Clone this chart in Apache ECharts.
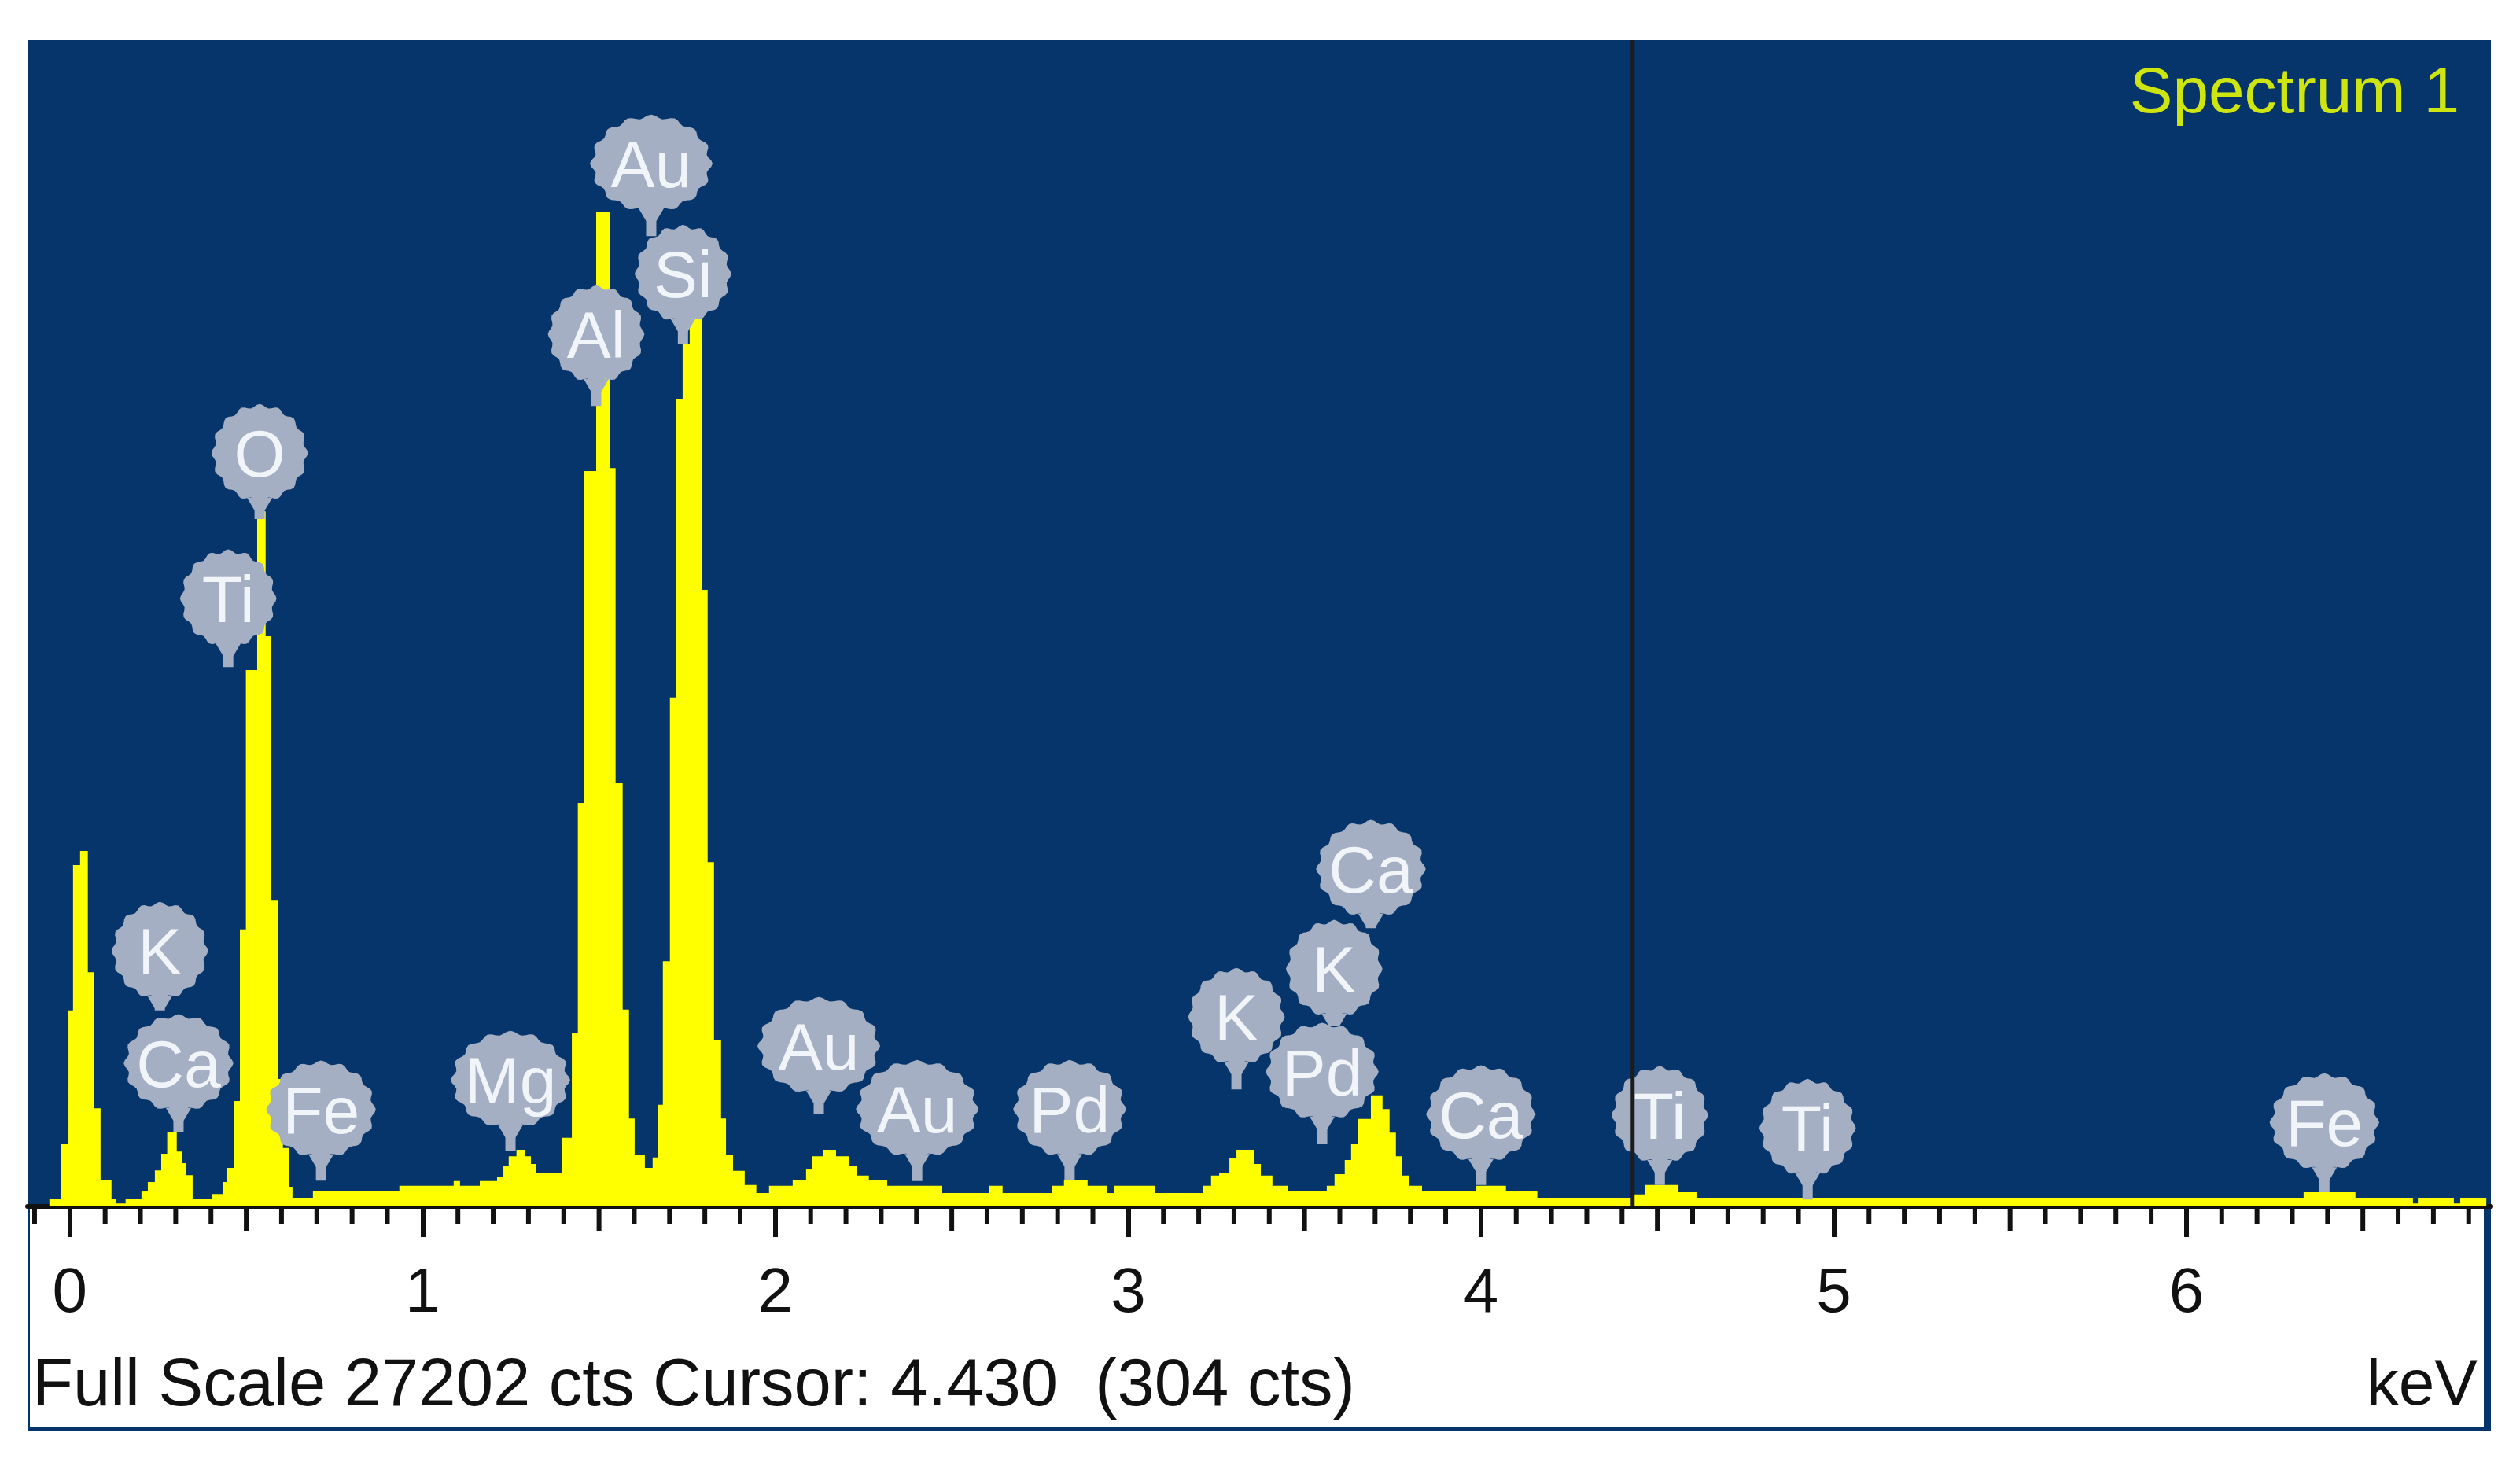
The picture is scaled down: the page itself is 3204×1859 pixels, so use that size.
<!DOCTYPE html>
<html>
  <head>
    <meta charset="utf-8">
    <title>Spectrum 1</title>
    <style type="text/css">
    html,body{margin:0;padding:0;background:#fff;}
    #chart{width:3204px;height:1859px;}
    </style>
    <script src="https://cdn.jsdelivr.net/npm/echarts@6/dist/echarts.min.js"></script>
  </head>
  <body>
    <div id="chart"></div>
    <script type="text/javascript">
    // spectrum, each count holds from its edge until the next edge (keV)
    var edges = [-0.058,-0.025,-0.004,0.009,0.029,0.051,0.069,0.087,0.118,0.132,0.158,0.203,0.221,0.241,0.259,0.276,0.303,0.319,0.330,0.348,
      0.404,0.433,0.444,0.466,0.482,0.499,0.531,0.555,0.571,0.589,0.604,0.622,0.631,0.689,0.934,1.088,1.106,1.162,1.211,1.229,
      1.244,1.266,1.289,1.307,1.322,1.396,1.423,1.440,1.458,1.492,1.530,1.547,1.567,1.585,1.601,1.630,1.652,1.668,1.681,1.701,
      1.719,1.737,1.757,1.793,1.808,1.826,1.846,1.860,1.880,1.913,1.946,1.982,2.049,2.087,2.105,2.136,2.172,2.210,2.232,2.265,
      2.317,2.473,2.606,2.644,2.783,2.818,2.885,2.939,2.961,3.077,3.213,3.235,3.258,3.287,3.307,3.358,3.376,3.409,3.452,3.563,
      3.585,3.614,3.632,3.652,3.688,3.721,3.741,3.759,3.777,3.797,3.833,3.987,4.071,4.160,4.433,4.466,4.560,4.611,6.332,6.479,
      6.642,6.656,6.758,6.776,6.850];
    var counts = [180,1450,4570,7960,8290,5460,2290,620,180,70,180,350,570,840,1230,1740,1280,1010,730,180,
      290,570,900,2460,6460,12510,16210,13300,7130,2970,1360,460,200,350,480,590,480,590,680,940,
      1170,1320,1170,990,770,1600,4050,9410,17150,23200,17220,9870,4590,2050,1210,900,1140,2370,5720,11870,
      18840,20120,20890,14380,8030,3890,2050,1210,830,500,310,480,620,860,1170,1320,1170,950,720,620,
      480,310,480,310,480,620,480,310,480,310,480,720,770,1120,1320,990,720,480,350,480,
      750,1080,1450,2040,2590,2270,1720,1170,720,480,350,480,350,200,280,500,330,200,330,200,
      70,200,70,200,0];

    // x-ray line markers
    var lineNames = ['O','Ti','K','Ca','Fe','Mg','Al','Au','Si','Au','Au','Pd','K','Pd','K','Ca','Ca','Ti','Ti','Fe'];
    var lineKeV = [0.538,0.449,0.255,0.308,0.712,1.249,1.492,1.648,1.738,2.123,2.402,2.834,3.307,3.550,3.584,3.688,4.000,4.507,4.926,6.391];
    var bubbleCts = [17570,14180,5960,3340,2260,2950,20340,24320,21750,3740,2270,2270,4420,3140,5540,7870,2150,2130,1830,1960];
    var stemEndCts = [16030,12580,4570,1740,600,1300,18670,22630,20120,2150,590,620,2730,1450,4290,6490,500,500,160,330];

    var majorTicks = [0,1,2,3,4,5,6];
    var midTicks = [0.5,1.5,2.5,3.5,4.5,5.5,6.5];
    var tickLabels = ['0','1','2','3','4','5','6'];
    var fullScale = 27202;
    var cursorKeV = 4.430;
    var cursorCts = 304;

    var FONT = '"Liberation Sans", Arial, sans-serif';
    var BLUE = '#05356a';
    var BUBBLE = '#a5afc3';
    var bubbleWidth = {Au:78,Pd:72,Mg:76,Ca:70,Fe:70};

    var minorTicks = [];
    for (var t = -1; t <= 68; t++) {
      if (t % 5 !== 0) minorTicks.push(t / 10);
    }

    function bubblePoints(cx, cy, rx, ry) {
      var pts = [];
      for (var i = 0; i < 96; i++) {
        var a = i / 96 * Math.PI * 2;
        var k = 1 + 0.04 * Math.cos(a * 16);
        pts.push([cx + Math.sin(a) * (rx - 3) * k, cy - Math.cos(a) * (ry - 3) * k]);
      }
      return pts;
    }

    var spectrum = edges.map(function (e, i) { return [e, counts[i]]; });
    var markers = lineNames.map(function (n, i) { return [lineKeV[i], bubbleCts[i], stemEndCts[i], n]; });
    var ticks = midTicks.map(function (v) { return [v, 31]; }).concat(minorTicks.map(function (v) { return [v, 22]; }));

    var myChart = echarts.init(document.getElementById('chart'), null, {renderer: 'canvas'});
    var option = {
      backgroundColor: '#fff',
      animation: false,
      textStyle: {fontFamily: FONT},
      title: {
        text: 'Spectrum 1',
        right: 72,
        top: 74,
        textStyle: {color: '#cfe50f', fontSize: 82, fontWeight: 'normal', fontFamily: FONT}
      },
      grid: {
        left: 35, right: 37, top: 51, bottom: 325,
        show: true, backgroundColor: BLUE, borderWidth: 0
      },
      xAxis: {
        type: 'value',
        min: -0.12,
        max: 6.863,
        splitLine: {show: false},
        axisLine: {show: true, onZero: false, lineStyle: {color: '#111', width: 6}},
        axisTick: {show: true, customValues: majorTicks, length: 39, lineStyle: {color: '#111', width: 6}},
        axisLabel: {
          show: true,
          customValues: majorTicks,
          margin: 72,
          color: '#111',
          fontSize: 80,
          fontFamily: FONT,
          formatter: function (v) { return tickLabels[majorTicks.indexOf(v)]; }
        }
      },
      yAxis: {
        type: 'value',
        min: 0,
        max: fullScale,
        show: false
      },
      graphic: [
        {type: 'rect', z: -1, shape: {x: 35, y: 51, width: 3132, height: 1768}, style: {fill: BLUE}},
        {type: 'rect', z: -1, shape: {x: 38, y: 1536, width: 3120, height: 279}, style: {fill: '#fff'}},
        {type: 'text', left: 41, top: 1721, style: {
          text: 'Full Scale ' + fullScale + ' cts Cursor: ' + cursorKeV.toFixed(3) + '  (' + cursorCts + ' cts)',
          fill: '#111', font: '85px ' + FONT}},
        {type: 'text', right: 54, top: 1722, style: {text: 'keV', fill: '#111', font: '82px ' + FONT}}
      ],
      series: [
        {
          name: 'spectrum',
          type: 'line',
          step: 'end',
          data: spectrum,
          symbol: 'none',
          silent: true,
          lineStyle: {width: 0, color: '#ffff00'},
          areaStyle: {color: '#ffff00', opacity: 1},
          z: 2
        },
        {
          name: 'ticks',
          type: 'custom',
          data: ticks,
          clip: false,
          silent: true,
          z: 3,
          renderItem: function (params, api) {
            var p = api.coord([api.value(0), 0]);
            return {
              type: 'rect',
              shape: {x: p[0] - 3, y: p[1], width: 6, height: api.value(1)},
              style: {fill: '#111'}
            };
          },
          encode: {x: 0}
        },
        {
          name: 'lines',
          type: 'custom',
          data: markers,
          clip: false,
          silent: true,
          z: 4,
          encode: {x: 0, y: 1},
          renderItem: function (params, api) {
            var name = lineNames[params.dataIndex];
            var c = api.coord([api.value(0), api.value(1)]);
            var end = api.coord([api.value(0), api.value(2)]);
            var rx = bubbleWidth[name] || 62;
            var ry = 63;
            return {
              type: 'group',
              children: [
                {type: 'rect', shape: {x: c[0] - 6.5, y: c[1], width: 13, height: end[1] - c[1]}, style: {fill: BUBBLE}},
                {type: 'polygon', shape: {points: [[c[0] - 16, c[1] + ry - 6], [c[0] + 16, c[1] + ry - 6], [c[0] + 6.5, c[1] + ry + 10], [c[0] - 6.5, c[1] + ry + 10]]}, style: {fill: BUBBLE}},
                {type: 'polygon', shape: {points: bubblePoints(c[0], c[1], rx, ry)}, style: {fill: BUBBLE}},
                {type: 'text', style: {x: c[0], y: c[1] + 7, text: name, align: 'center', verticalAlign: 'middle', fill: '#f1f4f8', font: '84px ' + FONT}}
              ]
            };
          }
        },
        {
          name: 'cursor',
          type: 'line',
          data: [[cursorKeV, 0], [cursorKeV, fullScale]],
          symbol: 'none',
          silent: true,
          lineStyle: {color: '#1c1c1c', width: 5},
          z: 5
        }
      ]
    };
    myChart.setOption(option);
    </script>
  </body>
</html>
